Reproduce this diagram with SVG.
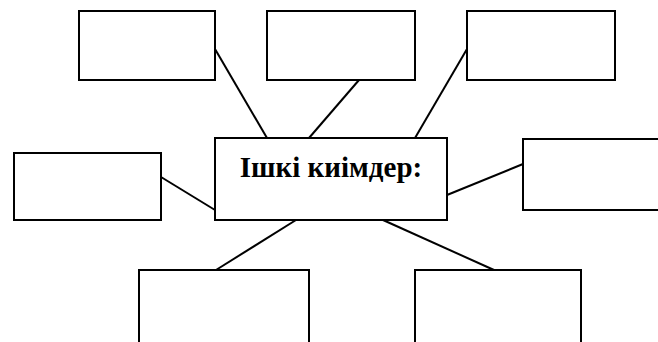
<svg xmlns="http://www.w3.org/2000/svg" width="658" height="342" viewBox="0 0 658 342">
<style>
.box{fill:#fff;stroke:#000;stroke-width:2}
.ln{stroke:#000;stroke-width:2;fill:none}
.t{font-family:"Liberation Serif","Times New Roman",serif;font-weight:bold;font-size:29px;fill:#000}
</style>
<rect width="658" height="342" fill="#fff"/>
<g id="connectors">
<line class="ln" x1="215" y1="49" x2="267" y2="138"/>
<line class="ln" x1="359" y1="80" x2="309" y2="138"/>
<line class="ln" x1="467" y1="49" x2="415" y2="138"/>
<line class="ln" x1="161" y1="177" x2="215" y2="210"/>
<line class="ln" x1="447" y1="195" x2="523" y2="164"/>
<line class="ln" x1="296" y1="220" x2="216" y2="270"/>
<line class="ln" x1="383" y1="220" x2="494" y2="270"/>
</g>
<g id="box-top-left"><rect class="box" x="79" y="11" width="136" height="69"/></g>
<g id="box-top-mid"><rect class="box" x="267" y="11" width="148" height="69"/></g>
<g id="box-top-right"><rect class="box" x="467" y="11" width="148" height="69"/></g>
<g id="box-left"><rect class="box" x="14" y="153" width="147" height="67"/></g>
<g id="box-right"><rect class="box" x="523" y="139" width="150" height="71"/></g>
<g id="box-bottom-left"><rect class="box" x="139" y="270" width="170" height="90"/></g>
<g id="box-bottom-right"><rect class="box" x="415" y="270" width="166" height="90"/></g>
<g id="center">
<rect class="box" x="215" y="138" width="232" height="82"/>
<text class="t" x="331" y="177" text-anchor="middle">Ішкі киімдер:</text>
</g>
</svg>
